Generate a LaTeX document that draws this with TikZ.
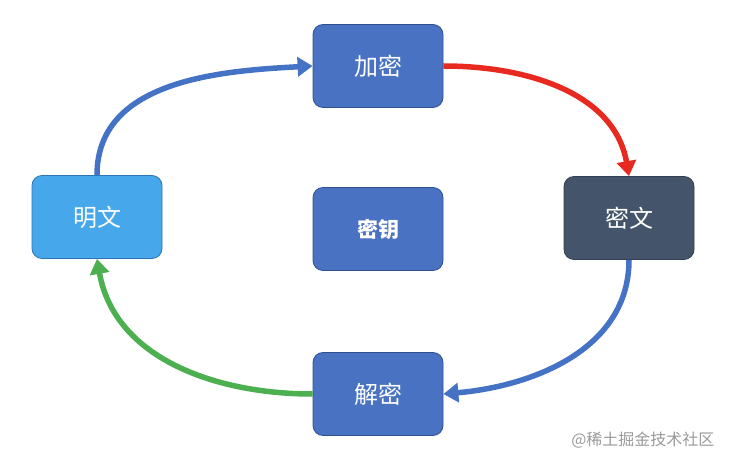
\documentclass[tikz,border=0pt]{standalone}
\usepackage{fontspec}
\usepackage{xcolor}
\usepackage{tikz}
\usetikzlibrary{
  arrows.meta,
  positioning,
  calc
}
\setmainfont{Noto Sans CJK SC}
\definecolor{cyStep}{HTML}{4A72C2}
\definecolor{cyStepEdge}{HTML}{2F528F}
\definecolor{cyPlain}{HTML}{46A8EA}
\definecolor{cyPlainEdge}{HTML}{2E75B6}
\definecolor{cyCipher}{HTML}{44546A}
\definecolor{cyCipherEdge}{HTML}{333F50}
\definecolor{cyRed}{HTML}{E8291F}
\definecolor{cyGreen}{HTML}{4CAF50}
\definecolor{cyBlue}{HTML}{4472C4}
\definecolor{cyMark}{HTML}{9A9A9A}
\tikzset{
  cynode/.style={
    draw, rounded corners=10pt, minimum height=83pt, minimum width=130pt,
    font=\fontsize{24}{26}\selectfont, text=white, align=center, line width=0.8pt
  },
  stepbox/.style={cynode, fill=cyStep, draw=cyStepEdge},
  plainbox/.style={cynode, fill=cyPlain, draw=cyPlainEdge},
  cipherbox/.style={cynode, fill=cyCipher, draw=cyCipherEdge},
  keybox/.style={stepbox, font=\fontsize{21}{23}\selectfont\bfseries},
  cyflow/.style={-{Triangle[length=15pt, width=19pt]}, line width=5.5pt},
  wmark/.style={font=\fontsize{16}{17}\selectfont, text=cyMark, anchor=east}
}
\begin{document}
\begin{tikzpicture}[x=1pt, y=-1pt]
  \useasboundingbox (0,0) rectangle (731,462);
  \node[stepbox] (enc) at (378,66) {加密};
  \node[plainbox] (plain) at (97,217) {明文};
  \node[keybox] (key) at (378,229) {密钥};
  \node[cipherbox] (cipher) at (629,218) {密文};
  \node[stepbox] (dec) at (378,394) {解密};
  % cycle
  \draw[cyflow, cyBlue] (plain.north) to[out=90, in=183] (enc.west);
  \draw[cyflow, cyRed] (enc.east) to[out=0, in=100] (cipher.north);
  \draw[cyflow, cyBlue] (cipher.south) to[out=-90, in=5] (dec.east);
  \draw[cyflow, cyGreen] (dec.west) to[out=180, in=-80] (plain.south);
  \node[wmark] (wm) at (718,440) {@稀土掘金技术社区};
\end{tikzpicture}
\end{document}
